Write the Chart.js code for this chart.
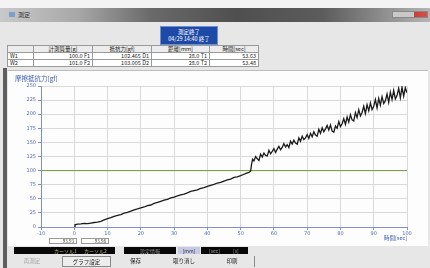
<!DOCTYPE html>
<html>
<head>
<meta charset="utf-8">
<script src="https://cdn.jsdelivr.net/npm/chart.js@4"></script>
<style>
  body { margin: 0; width: 430px; height: 268px; overflow: hidden; position: relative; background: #e7e7e7; font-family: "Noto Sans CJK JP", "Noto Sans", sans-serif; }
  .abs { position: absolute; }
  #topStrip { left: 0; top: 0; width: 430px; height: 8px; background: #f3f3f3; }
  #titleBar { left: 0; top: 8px; width: 430px; height: 14px; background: linear-gradient(to right, #c9c9c9 0%, #a8a8a8 18%, #6a6a6a 35%, #4f4f4f 55%, #5c5c5c 75%, #8a8a8a 88%, #b5b5b5 100%); }
  #titleText { left: 18px; top: 10px; font-size: 6px; color: #333; }
  #icon { left: 9px; top: 12px; width: 6px; height: 5px; background: #7aa0d0; }
  #winBtns { left: 392px; top: 11px; width: 36px; height: 7px; background: linear-gradient(to right, #c8c8c8 0%, #c8c8c8 62%, #c8403a 62%, #d65048 100%); border: 1px solid #888; box-sizing: border-box; }
  #status { left: 160px; top: 26px; width: 58px; height: 19px; background: #1d4aa6; border: 1px solid #6f8fd0; box-sizing: border-box; color: #fff; font-size: 5.5px; line-height: 7px; text-align: center; padding-top: 2px; }
  #info { left: 7px; top: 45px; border-collapse: collapse; font-size: 5.5px; color: #222; background: #fff; }
  #info td { border: 1px solid #9a9a9a; height: 6px; padding: 0 2px; line-height: 6px; white-space: nowrap; }
  #info tr.hd td { background: #ececec; text-align: center; }
  #info td.num { text-align: right; }
  #panel { left: 8px; top: 70px; width: 420px; height: 176px; background: #fdfdfd; border-top: 1px solid #bdbdbd; box-sizing: border-box; }
  #leftEdge { left: 3px; top: 68px; width: 4px; height: 200px; background: #5e5e5e; }
  #chartBox { left: 0; top: 70px; width: 430px; height: 175px; }
  #yTitle { left: 15px; top: 73px; font-size: 6.5px; color: #3c5cb0; }
  #xTitle { left: 384px; top: 234px; font-size: 5.5px; color: #3c5cb0; }
  .cur { top: 238px; width: 28px; height: 6px; background: #fff; border: 1px solid #999; box-sizing: border-box; font-size: 4.5px; line-height: 5px; text-align: right; padding-right: 2px; color: #333; }
  .bar { top: 247px; height: 7px; font-size: 5px; line-height: 7px; }
  .btn { top: 256px; height: 11px; font-size: 5.5px; line-height: 11px; text-align: center; color: #222; }
</style>
</head>
<body>
<div class="abs" id="topStrip"></div>
<div class="abs" id="titleBar"></div>
<div class="abs" id="icon"></div>
<div class="abs" id="titleText">測定</div>
<div class="abs" id="winBtns"></div>
<div class="abs" id="status">測定終了<br>04/29 14:40 終了</div>
<table class="abs" id="info">
  <tr class="hd"><td style="width:21px"></td><td style="width:54px">計測質量[g]</td><td style="width:54px">抵抗力[gf]</td><td style="width:53px">距離[mm]</td><td style="width:44px">時間[sec]</td></tr>
  <tr><td>W1</td><td class="num">100.0 F1</td><td class="num">102.465 D1</td><td class="num">28.0 T1</td><td class="num">53.63</td></tr>
  <tr><td>W2</td><td class="num">101.0 F2</td><td class="num">103.005 D2</td><td class="num">28.0 T2</td><td class="num">53.48</td></tr>
</table>
<div class="abs" id="panel"></div>
<div class="abs" id="leftEdge"></div>
<div class="abs" id="chartBox"><canvas id="chart" width="430" height="175"></canvas></div>
<div class="abs" id="yTitle">摩擦抵抗力[gf]</div>
<div class="abs" id="xTitle">時間[sec]</div>
<div class="abs cur" style="left:49px">93.93</div>
<div class="abs cur" style="left:81px">93.98</div>
<div class="abs bar" style="left:14px;width:101px;background:#080808;color:#b9b27a;"><span style="position:absolute;left:40px">カーソル1</span><span style="position:absolute;left:70px">カーソル2</span></div>
<div class="abs bar" style="left:124px;width:52px;background:#080808;color:#9a9a9a;text-align:center;">設定情報</div>
<div class="abs bar" style="left:178px;width:22px;background:#c5c9e6;color:#333;text-align:center;">[mm]</div>
<div class="abs bar" style="left:201px;width:47px;background:#080808;color:#9a9a9a;"><span style="position:absolute;left:8px">[sec]</span><span style="position:absolute;left:32px">[s]</span></div>
<div class="abs btn" style="left:9px;width:46px;color:#a8a8a8;">再測定</div>
<div class="abs btn" style="left:62px;width:49px;border:1px solid #8a8a8a;box-sizing:border-box;background:#ededed;">グラフ設定</div>
<div class="abs btn" style="left:113px;width:45px;">保存</div>
<div class="abs btn" style="left:160px;width:48px;">取り消し</div>
<div class="abs btn" style="left:210px;width:45px;border-right:1px solid #8a8a8a;box-sizing:border-box;">印刷</div>
<script>
  const times = [
    0, 0.2, 1, 2, 3, 4, 5, 6, 7, 8, 9, 10, 11, 12, 13, 14, 15, 16, 17, 18, 19, 20,
    21, 22, 23, 24, 25, 26, 27, 28, 29, 30, 31, 32, 33, 34, 35, 36, 37, 38, 39, 40,
    41, 42, 43, 44, 45, 46, 47, 48, 49, 50, 51, 52, 52.5, 53, 53.3, 53.6,
    54, 54.5, 55, 55.5, 56, 56.5, 57, 57.5, 58, 58.5, 59, 59.5, 60, 60.5, 61, 61.5,
    62, 62.5, 63, 63.5, 64, 64.5, 65, 65.5, 66, 66.5, 67, 67.5, 68, 68.5, 69, 69.5,
    70, 70.5, 71, 71.5, 72, 72.5, 73, 73.5, 74, 74.5, 75, 75.5, 76, 76.5, 77, 77.5,
    78, 78.5, 79, 79.5, 80, 80.5, 81, 81.5, 82, 82.5, 83, 83.5, 84, 84.5, 85, 85.5,
    86, 86.5, 87, 87.5, 88, 88.5, 89, 89.5, 90, 90.5, 91, 91.5, 92, 92.5, 93, 93.5,
    94, 94.5, 95, 95.5, 96, 96.5, 97, 97.5, 98, 98.5, 99, 99.5, 100,
  ];
  const force = [
    0, 4, 5, 5.5, 6.5, 6, 7, 8, 8.5, 10, 12.5, 15, 16.5, 19, 20.5, 22, 24.5, 26, 28, 30.5, 32, 34,
    35.5, 38, 39, 42, 43.5, 45.5, 47.5, 49, 51.5, 53, 55, 57, 58.5, 60.5, 63, 64.5, 66, 68.5, 70, 72,
    74, 75.5, 78, 79, 81.5, 83.5, 85, 88, 89, 91, 93.5, 96, 97, 99, 112, 120,
    117, 125, 121, 118, 129, 124, 131, 127, 126, 136, 130, 134, 139, 132, 138, 143,
    137, 141, 148, 142, 146, 141, 152, 147, 154, 149, 147, 158, 152, 161, 155, 158,
    164, 157, 166, 160, 169, 163, 161, 173, 166, 176, 169, 174, 180, 172, 181, 170,
    168, 179, 175, 187, 178, 183, 192, 182, 195, 186, 199, 190, 188, 203, 194, 208,
    197, 203, 214, 201, 217, 206, 220, 208, 214, 226, 211, 228, 216, 231, 219, 224,
    236, 221, 239, 226, 242, 227, 233, 246, 229, 248, 232, 247, 238,
  ];
  const xTicks = { min: -10, max: 100, step: 10 };
  const yTicks = { min: 0, max: 250, step: 25 };
  const limitForce = 100;

  const tickFont = { family: "DejaVu Sans", size: 5 };
  const tickColor = "#5566b0";

  new Chart(document.getElementById("chart"), {
    type: "line",
    data: {
      datasets: [
        {
          data: times.map((t, i) => ({ x: t, y: force[i] })),
          borderColor: "#1b1b1b",
          borderWidth: 1.3,
          pointRadius: 0,
          order: 0,
        },
        {
          data: [{ x: xTicks.min, y: limitForce }, { x: xTicks.max, y: limitForce }],
          borderColor: "#6f9a3c",
          borderWidth: 1,
          pointRadius: 0,
          order: 1,
        },
      ],
    },
    options: {
      responsive: false,
      animation: false,
      devicePixelRatio: 1,
      layout: { padding: { top: 16, right: 23, left: 0, bottom: 0 } },
      plugins: { legend: { display: false }, tooltip: { enabled: false } },
      scales: {
        x: {
          type: "linear",
          min: xTicks.min,
          max: xTicks.max,
          ticks: { stepSize: xTicks.step, font: tickFont, color: tickColor, padding: 1, maxRotation: 0 },
          grid: { color: "#d9d9d9", tickLength: 3, tickColor: "#8090cc" },
          border: { color: "#8090cc" },
          afterFit: (s) => { s.height = 18; },
        },
        y: {
          min: yTicks.min,
          max: yTicks.max,
          ticks: { stepSize: yTicks.step, font: tickFont, color: tickColor, padding: 2 },
          grid: { color: "#d9d9d9", tickLength: 3, tickColor: "#8090cc" },
          border: { color: "#8090cc" },
          afterFit: (s) => { s.width = 41; },
        },
      },
    },
  });
</script>
</body>
</html>
